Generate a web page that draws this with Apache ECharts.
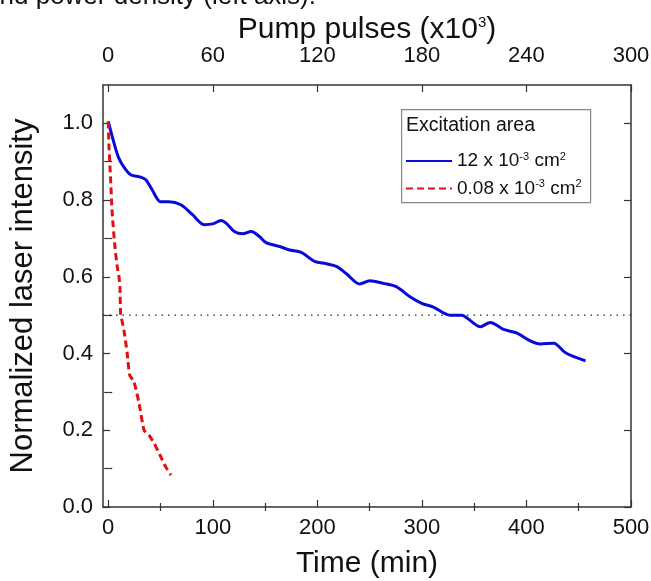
<!DOCTYPE html>
<html>
<head>
<meta charset="utf-8">
<script src="https://cdn.jsdelivr.net/npm/echarts@6/dist/echarts.min.js"></script>
<style>
  html, body { margin: 0; padding: 0; background: #fff; }
  #chart { width: 651px; height: 581px; }
</style>
</head>
<body>
<div id="chart"></div>
<script>
// large excitation area (12 x 10^-3 cm^2)
const bigTime = [0, 5.5, 10, 15, 21.5, 31, 36, 42, 50, 58, 69.5, 80.6, 91.8, 100, 108, 112.7, 120.6,
  128.6, 136.7, 144.6, 151, 163.8, 173.4, 184.6, 197.4, 208.6, 218.2, 227.8, 240.6, 250.2, 263,
  275.8, 288.6, 299.8, 311, 327, 338.2, 346.2, 355.8, 365.4, 378.1, 391, 403.7, 413.3, 426.1, 437.3, 456.5];
const bigInt = [1.005, 0.949, 0.910, 0.886, 0.866, 0.860, 0.853, 0.827, 0.796, 0.796, 0.788, 0.762,
  0.736, 0.738, 0.747, 0.740, 0.718, 0.712, 0.718, 0.705, 0.689, 0.679, 0.670, 0.664, 0.640, 0.634,
  0.627, 0.608, 0.581, 0.590, 0.583, 0.574, 0.548, 0.531, 0.521, 0.500, 0.500, 0.486, 0.470, 0.481,
  0.463, 0.453, 0.433, 0.425, 0.427, 0.402, 0.381];

// small excitation area (0.08 x 10^-3 cm^2)
const smallTime = [0, 0.7, 2.3, 3.8, 6.4, 8.6, 10.3, 11.2, 11.9, 15, 18.2, 20.5, 24.7, 29.5, 34.3,
  39, 43.9, 50.3, 55.1, 59.9];
const smallInt = [1.005, 0.94, 0.853, 0.766, 0.679, 0.627, 0.600, 0.574, 0.505, 0.461, 0.400, 0.344,
  0.326, 0.270, 0.200, 0.187, 0.166, 0.131, 0.104, 0.083];

const halfLevel = 0.5;

const timeMajor = [0, 100, 200, 300, 400, 500];
const timeMinor = [50, 150, 250, 350, 450];
const pulseMajor = [0, 60, 120, 180, 240, 300];
const pulseMinor = [30, 90, 150, 210, 270];
const yMajor = [0, 0.2, 0.4, 0.6, 0.8, 1.0];
const yMinor = [0.1, 0.3, 0.5, 0.7, 0.9];

const legendNames = ['12 x 10^-3 cm^2', '0.08 x 10^-3 cm^2'];

const chart = echarts.init(document.getElementById('chart'));
const axisColor = '#333';
const font = 'Liberation Sans, Arial, sans-serif';

function xAx(pos, min, max, major, opts) {
  return Object.assign({
    type: 'value', position: pos, min: min, max: max,
    axisLine: { show: true, onZero: false, lineStyle: { color: axisColor, width: 1.5 } },
    splitLine: { show: false },
    axisTick: { show: true, inside: true, length: 7, customValues: major, lineStyle: { color: axisColor, width: 1.2 } },
    axisLabel: { show: true, customValues: major, color: '#111', fontSize: 22, fontFamily: font, margin: 10 }
  }, opts || {});
}
function minorAx(pos, min, max, vals) {
  return {
    type: 'value', position: pos, min: min, max: max,
    axisLine: { show: false }, splitLine: { show: false },
    axisTick: { show: true, inside: true, length: 4, customValues: vals, lineStyle: { color: axisColor, width: 1.2 } },
    axisLabel: { show: false }
  };
}

const toPairs = (xs, ys) => xs.map((x, i) => [x, ys[i]]);

chart.setOption({
  animation: false,
  backgroundColor: '#fff',
  grid: { left: 103, right: 20, top: 85, bottom: 74, containLabel: false, outerBoundsMode: 'none' },
  xAxis: [
    xAx('bottom', -5, 500, timeMajor, {
      name: 'Time (min)', nameLocation: 'middle', nameGap: 42, nameMoveOverlap: false,
      nameTextStyle: { fontSize: 30, fontFamily: font, color: '#111' }
    }),
    xAx('top', -3, 300, pulseMajor, {
      name: 'Pump pulses (x10{sup|3})', nameLocation: 'middle', nameGap: 40, nameMoveOverlap: false,
      axisLabel: { show: true, customValues: pulseMajor, color: '#111', fontSize: 22, fontFamily: font, margin: 18 },
      nameTextStyle: {
        fontSize: 30, fontFamily: font, color: '#111',
        rich: { sup: { fontSize: 15, fontFamily: font, color: '#111', verticalAlign: 'top', padding: [0, 0, 15, 0] } }
      }
    }),
    minorAx('bottom', -5, 500, timeMinor),
    minorAx('top', -3, 300, pulseMinor)
  ],
  yAxis: [
    {
      type: 'value', position: 'left', min: 0, max: 1.1,
      name: 'Normalized laser intensity', nameLocation: 'middle', nameGap: 64, nameMoveOverlap: false,
      nameTextStyle: { fontSize: 31, fontFamily: font, color: '#111' },
      axisLine: { show: true, onZero: false, lineStyle: { color: axisColor, width: 1.5 } },
      splitLine: { show: false },
      axisTick: { show: true, inside: true, length: 7, customValues: yMajor, lineStyle: { color: axisColor, width: 1.2 } },
      axisLabel: { show: true, customValues: yMajor, color: '#111', fontSize: 22, fontFamily: font, margin: 10,
        formatter: v => v.toFixed(1) }
    },
    {
      type: 'value', position: 'right', min: 0, max: 1.1,
      axisLine: { show: true, onZero: false, lineStyle: { color: axisColor, width: 1.5 } },
      splitLine: { show: false },
      axisTick: { show: true, inside: true, length: 7, customValues: yMajor, lineStyle: { color: axisColor, width: 1.2 } },
      axisLabel: { show: false }
    },
    minorAx('left', 0, 1.1, yMinor),
    minorAx('right', 0, 1.1, yMinor)
  ],
  legend: {
    data: legendNames,
    orient: 'vertical',
    left: 400, top: 146, z: 20,
    itemWidth: 46, itemHeight: 10, itemGap: 8,
    itemStyle: { opacity: 0 },
    formatter: function (name) {
      const m = name.split('^');
      return '{t|' + m[0] + '}{sup|' + m[1].split(' ')[0] + '}{t| cm}{sup|2}';
    },
    textStyle: {
      color: '#111',
      rich: {
        t: { fontSize: 19, fontFamily: font, color: '#111' },
        sup: { fontSize: 11, fontFamily: font, color: '#111', verticalAlign: 'top', padding: [0, 0, 9, 0] }
      }
    }
  },
  graphic: [
    {
      type: 'rect', left: 401, top: 109, z: -1,
      shape: { width: 189, height: 93 },
      style: { fill: '#fff', stroke: '#888', lineWidth: 1.2 }
    },
    {
      type: 'text', left: 406, top: 116, z: 20,
      style: { text: 'Excitation area', fontSize: 19.5, fontFamily: font, fill: '#111' }
    },
    {
      type: 'text', right: 335, top: -16, z: 20,
      style: { text: 'and power density (left axis).', fontSize: 26, fontFamily: font, fill: '#111' }
    }
  ],
  series: [
    {
      name: legendNames[0], type: 'line', xAxisIndex: 0, yAxisIndex: 0,
      data: toPairs(bigTime, bigInt), showSymbol: false, symbol: 'none', smooth: 0.3,
      lineStyle: { color: '#0a0ad8', width: 3 }, itemStyle: { color: '#0a0ad8' }, z: 4
    },
    {
      name: legendNames[1], type: 'line', xAxisIndex: 0, yAxisIndex: 0,
      data: toPairs(smallTime, smallInt), showSymbol: false, symbol: 'none', smooth: 0.2,
      lineStyle: { color: '#e01010', width: 3, type: [7, 4] }, itemStyle: { color: '#e01010' }, z: 4
    },
    {
      name: 'half', type: 'line', xAxisIndex: 0, yAxisIndex: 0,
      data: [[-5, halfLevel], [500, halfLevel]], showSymbol: false, symbol: 'none',
      lineStyle: { color: '#222', width: 1.2, type: [1.5, 5] }, z: 3
    }
  ]
});
</script>
</body>
</html>
